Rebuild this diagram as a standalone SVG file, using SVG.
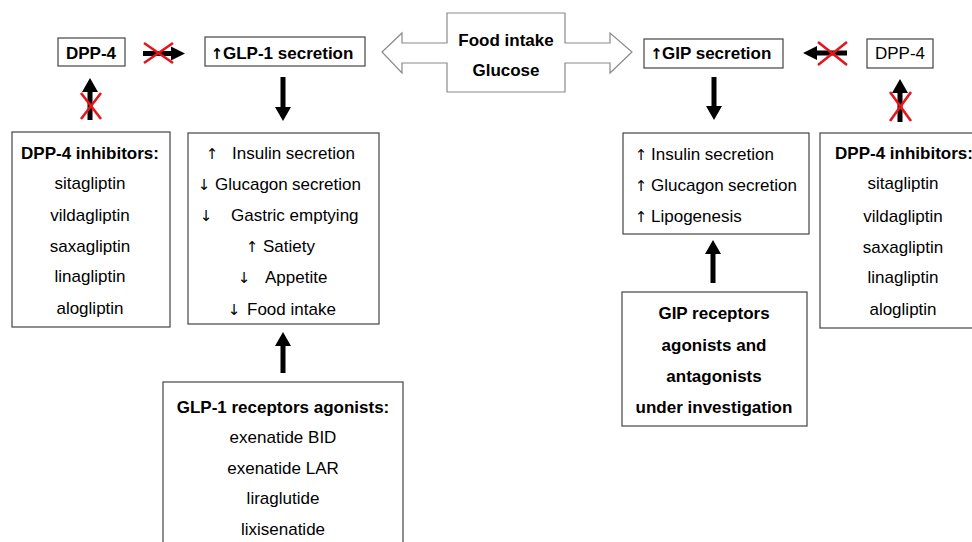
<svg xmlns="http://www.w3.org/2000/svg" width="972" height="542" viewBox="0 0 972 542">
<style>
.box{fill:#fff;stroke:#444;stroke-width:1.2}
.t{font-family:"Liberation Sans",Arial,sans-serif;font-size:17px;fill:#000}
.b{font-weight:bold}
.m{text-anchor:middle}
.ar{font-family:"DejaVu Sans",sans-serif;font-size:15px;fill:#000;text-anchor:middle}
.arr{fill:#000;stroke:none}
.x{stroke:#e8141b;stroke-width:2.6;fill:none}
</style>
<rect width="972" height="542" fill="#fff"/>

<g id="connectors">
  <polygon class="arr" points="280.5,77 285.5,77 285.5,107 291,107 283,121 275,107 280.5,107"/>
  <polygon class="arr" points="711.5,77 716.5,77 716.5,106 722,106 714,120 706,106 711.5,106"/>
  <polygon class="arr" points="87.5,120 92.5,120 92.5,92 98,92 90,78 82,92 87.5,92"/>
  <polygon class="arr" points="897.5,122 902.5,122 902.5,93 908,93 900,79 892,93 897.5,93"/>
  <polygon class="arr" points="710.5,283 715.5,283 715.5,254 721,254 713,240 705,254 710.5,254"/>
  <polygon class="arr" points="280.5,373 285.5,373 285.5,346 291,346 283,332 275,346 280.5,346"/>
  <polygon class="arr" points="143,51 171,51 171,46.5 185,53.5 171,60.5 171,56 143,56"/>
  <polygon class="arr" points="847,50.5 817,50.5 817,46 803,53 817,60 817,55.5 847,55.5"/>
  <path class="x" d="M144,43 L173,63 M144,63 L173,43"/>
  <path class="x" d="M818,42 L847,65 M818,65 L847,42"/>
  <path class="x" d="M81,93 L101,119 M81,119 L101,93"/>
  <path class="x" d="M890,92 L911,121 M890,121 L911,92"/>
</g>

<g id="food">
  <polygon points="382,52 402,33 402,43 447,43 447,13 565,13 565,43 610,43 610,33 632,52 610,73 610,63 565,63 565,92 447,92 447,63 402,63 402,73" fill="#fff" stroke="#8a8a8a" stroke-width="1.2"/>
  <text class="t b m" x="506" y="46">Food intake</text>
  <text class="t b m" x="506" y="76">Glucose</text>
</g>

<g id="dpp4-left">
  <rect class="box" x="58" y="38" width="67" height="28"/>
  <text class="t b m" x="91" y="59">DPP-4</text>
</g>

<g id="glp1-secretion">
  <rect class="box" x="205" y="37" width="160" height="29"/>
  <text class="ar" x="217" y="59" font-weight="bold">↑</text>
  <text class="t b" x="223" y="59">GLP-1 secretion</text>
</g>

<g id="gip-secretion">
  <rect class="box" x="644" y="39" width="139" height="29"/>
  <text class="ar" x="656.5" y="59" font-weight="bold">↑</text>
  <text class="t b" x="662" y="59">GIP secretion</text>
</g>

<g id="dpp4-right">
  <rect class="box" x="867" y="39" width="66" height="29"/>
  <text class="t m" x="900" y="59">DPP-4</text>
</g>

<g id="dpp4-inhibitors-left">
  <rect class="box" x="12" y="132" width="158" height="195"/>
  <text class="t b m" x="90" y="159">DPP-4 inhibitors:</text>
  <text class="t m" x="90" y="189">sitagliptin</text>
  <text class="t m" x="90" y="221">vildagliptin</text>
  <text class="t m" x="90" y="252">saxagliptin</text>
  <text class="t m" x="90" y="282">linagliptin</text>
  <text class="t m" x="90" y="314">alogliptin</text>
</g>

<g id="glp1-effects">
  <rect class="box" x="188" y="133" width="191" height="191"/>
  <text class="ar" x="212" y="159">↑</text>
  <text class="t" x="232" y="159">Insulin secretion</text>
  <text class="ar" x="204" y="190">↓</text>
  <text class="t" y="190"><tspan x="215">Glucagon</tspan><tspan x="292">secretion</tspan></text>
  <text class="ar" x="206" y="221">↓</text>
  <text class="t" x="231" y="221">Gastric emptying</text>
  <text class="ar" x="252" y="252">↑</text>
  <text class="t" x="263" y="252">Satiety</text>
  <text class="ar" x="244" y="283">↓</text>
  <text class="t" x="265" y="283">Appetite</text>
  <text class="ar" x="234" y="315">↓</text>
  <text class="t" x="247" y="315">Food intake</text>
</g>

<g id="glp1-agonists">
  <rect class="box" x="163" y="382" width="240" height="170"/>
  <text class="t b m" x="283" y="413">GLP-1 receptors agonists:</text>
  <text class="t m" x="283" y="443">exenatide BID</text>
  <text class="t m" x="283" y="474">exenatide LAR</text>
  <text class="t m" x="283" y="504">liraglutide</text>
  <text class="t m" x="283" y="535">lixisenatide</text>
</g>

<g id="gip-effects">
  <rect class="box" x="623" y="133" width="186" height="101"/>
  <text class="ar" x="641" y="160">↑</text>
  <text class="t" x="651" y="160">Insulin secretion</text>
  <text class="ar" x="641" y="191">↑</text>
  <text class="t" y="191"><tspan x="651">Glucagon</tspan><tspan x="728">secretion</tspan></text>
  <text class="ar" x="641" y="222">↑</text>
  <text class="t" x="651" y="222">Lipogenesis</text>
</g>

<g id="gip-agonists">
  <rect class="box" x="622" y="292" width="185" height="134"/>
  <text class="t b m" x="714" y="319">GIP receptors</text>
  <text class="t b m" x="714" y="351">agonists and</text>
  <text class="t b m" x="714" y="382">antagonists</text>
  <text class="t b m" x="714" y="413">under investigation</text>
</g>

<g id="dpp4-inhibitors-right">
  <rect class="box" x="820" y="133" width="170" height="195"/>
  <text class="t b m" x="904" y="159">DPP-4 inhibitors:</text>
  <text class="t m" x="903" y="189">sitagliptin</text>
  <text class="t m" x="903" y="222">vildagliptin</text>
  <text class="t m" x="903" y="253">saxagliptin</text>
  <text class="t m" x="903" y="283">linagliptin</text>
  <text class="t m" x="903" y="315">alogliptin</text>
</g>
</svg>
